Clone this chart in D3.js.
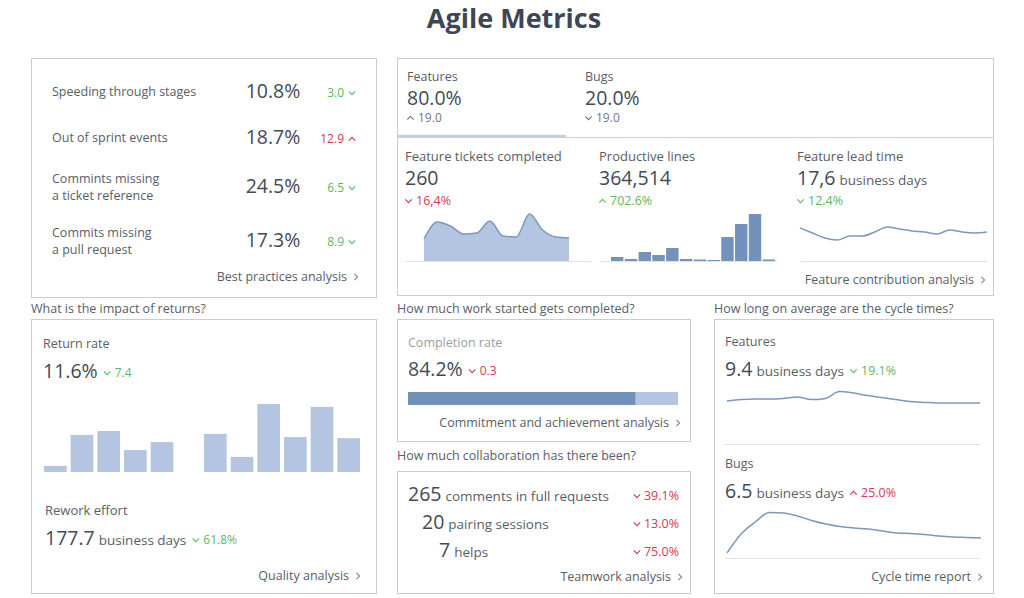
<!DOCTYPE html>
<html>
<head>
<meta charset="utf-8">
<script src="https://cdn.jsdelivr.net/npm/d3@7"></script>
<style>
  body { margin: 0; background: #fff; }
  text { font-family: "Open Sans", sans-serif; }
</style>
</head>
<body>
<svg id="chart" width="1024" height="598"></svg>
<script>
// ---- data ----
const bestLabels = [["Speeding through stages"], ["Out of sprint events"], ["Commints missing", "a ticket reference"], ["Commits missing", "a pull request"]];
const bestValues = [10.8, 18.7, 24.5, 17.3];
const bestChanges = [-3.0, 12.9, -6.5, -8.9];

const tabLabels = ["Features", "Bugs"];
const tabShares = [80.0, 20.0];
const tabChanges = [19.0, -19.0];

const kpiLabels = ["Feature tickets completed", "Productive lines", "Feature lead time"];
const kpiValues = ["260", "364,514", "17,6"];
const kpiUnits = ["", "", "business days"];
const kpiChanges = ["16,4%", "702.6%", "12.4%"];
const kpiDirs = ["down", "up", "down"];
const kpiGood = [false, true, true];

const ticketsCompleted = [22, 39, 35, 27, 28, 40, 25, 24, 47, 31, 24, 23];
const productiveLines = [8, 4, 18, 12, 26, 4, 3, 2, 48, 74, 94, 3]; // thousands of lines
const leadTimeDays = [21.3, 18.1, 14.8, 13.5, 16.1, 16.1, 18.7, 21.9, 20.6, 19.4, 18.7, 17.4, 20.0, 18.7, 18.1, 18.7];

const returnRate = [1.7, 10.3, 11.4, 6.1, 8.3, null, 10.6, 4.2, 18.9, 9.7, 18.1, 9.4];
const returnNow = 11.6, returnChange = -7.4;
const reworkDays = 177.7, reworkChange = "61.8%";

const completionRate = 84.2, completionChange = -0.3;

const collabCounts = [265, 20, 7];
const collabLabels = ["comments in full requests", "pairing sessions", "helps"];
const collabChanges = ["39.1%", "13.0%", "75.0%"];

const featureCycleDays = [10.75, 11.1, 11.25, 11.25, 11.4, 11.75, 11.1, 11.4, 13.1, 12.75, 12.1, 11.6, 11.1, 10.6, 10.4, 10.25, 10.25, 10.25, 10.25];
const bugCycleDays = [1.0, 4.8, 7.2, 9.1, 9.0, 8.4, 7.5, 6.8, 6.3, 6.0, 5.8, 5.4, 5.0, 4.9, 4.7, 4.4, 4.2, 4.1, 4.0];
const cycleNow = [9.4, 6.5];
const cycleChanges = ["19.1%", "25.0%"];

// ---- drawing ----
const C = {
  title: "#3e4656", value: "#434a55", label: "#585e68", soft: "#9a9ea4",
  green: "#5db85d", red: "#d93650", border: "#cccccc", rule: "#e2e2e2",
  light: "#b3c5e1", dark: "#7291bb", line: "#7d97bd", tab: "#c3d2e3"
};
const f1 = d3.format(".1f");

const svg = d3.select("#chart");
svg.append("rect").attr("width", 1024).attr("height", 598).attr("fill", "#fff");

function txt(g, x, y, s, size, color, anchor, weight) {
  return g.append("text").attr("x", x).attr("y", y).text(s)
    .attr("font-size", size).attr("fill", color)
    .attr("text-anchor", anchor || "start").attr("font-weight", weight || 400);
}
function width(sel) { return sel.node().getComputedTextLength(); }

function chevron(g, x, y, dir, color) {
  const s = 3.2;
  let d;
  if (dir === "down") d = `M${x - s},${y - s / 2}L${x},${y + s / 2}L${x + s},${y - s / 2}`;
  else if (dir === "up") d = `M${x - s},${y + s / 2}L${x},${y - s / 2}L${x + s},${y + s / 2}`;
  else d = `M${x - s / 2},${y - s}L${x + s / 2},${y}L${x - s / 2},${y + s}`;
  g.append("path").attr("d", d).attr("fill", "none").attr("stroke", color).attr("stroke-width", 1.1);
}

// chevron then text, starting at x
function delta(g, x, y, dir, s, color, size) {
  chevron(g, x + 3.5, y - 4, dir, color);
  return txt(g, x + 11, y, s, size || 12, color);
}
// text then link chevron, right aligned at x
function link(g, x, y, s) {
  txt(g, x - 12, y, s, 12.5, C.label, "end");
  chevron(g, x - 3, y - 4, "right", "#888");
}
function panel(x, y, w, h) {
  svg.append("rect").attr("x", x + 0.5).attr("y", y + 0.5).attr("width", w).attr("height", h)
    .attr("fill", "none").attr("stroke", C.border);
}
function hline(x1, x2, y, color) {
  svg.append("line").attr("x1", x1).attr("x2", x2).attr("y1", y + 0.5).attr("y2", y + 0.5)
    .attr("stroke", color || C.rule);
}

txt(svg, 514, 28, "Agile Metrics", 27, C.title, "middle", 700);

// -- best practices panel
panel(31, 58, 345, 239);
const rowCenters = [91, 137, 186, 240];
bestLabels.forEach((lines, i) => {
  const cy = rowCenters[i];
  lines.forEach((l, j) => txt(svg, 52, cy + 5 - (lines.length - 1) * 8.5 + j * 17, l, 12.5, C.label));
  txt(svg, 273, cy + 7, f1(bestValues[i]) + "%", 19.5, C.value, "middle");
  const up = bestChanges[i] > 0, col = up ? C.red : C.green;
  txt(svg, 344, cy + 6, f1(Math.abs(bestChanges[i])), 12, col, "end");
  chevron(svg, 352, cy + 2, up ? "up" : "down", col);
});
link(svg, 359, 281, "Best practices analysis");

// -- features / bugs panel
panel(397, 58, 596, 237);
hline(397, 993, 137, "#cfcfcf");
svg.append("line").attr("x1", 397).attr("x2", 566).attr("y1", 136).attr("y2", 136)
  .attr("stroke", C.tab).attr("stroke-width", 2.5);
const tabX = [407, 585];
tabLabels.forEach((l, i) => {
  txt(svg, tabX[i], 81, l, 12.5, C.label);
  txt(svg, tabX[i], 105, f1(tabShares[i]) + "%", 19.5, C.value);
  delta(svg, tabX[i], 122, tabChanges[i] > 0 ? "up" : "down", f1(Math.abs(tabChanges[i])), "#777", 12);
});

const kpiX = [405, 599, 797];
kpiLabels.forEach((l, i) => {
  txt(svg, kpiX[i], 161, l, 13, C.label);
  const v = txt(svg, kpiX[i], 185, kpiValues[i], 19.5, C.value);
  if (kpiUnits[i]) txt(svg, kpiX[i] + width(v) + 4, 185, kpiUnits[i], 13.5, C.label);
  delta(svg, kpiX[i], 205, kpiDirs[i], kpiChanges[i], kpiGood[i] ? C.green : C.red, 12.5);
});

// tickets area
hline(406, 591, 261);
const xT = d3.scaleLinear().domain([0, ticketsCompleted.length - 1]).range([424, 569]);
const yT = d3.scaleLinear().domain([0, 50]).range([261, 211]);
svg.append("path").datum(ticketsCompleted)
  .attr("d", d3.area().x((d, i) => xT(i)).y0(yT(0)).y1(d => yT(d)).curve(d3.curveMonotoneX))
  .attr("fill", C.light);
svg.append("path").datum(ticketsCompleted)
  .attr("d", d3.line().x((d, i) => xT(i)).y(d => yT(d)).curve(d3.curveMonotoneX))
  .attr("fill", "none").attr("stroke", C.line).attr("stroke-width", 1.5);

// productive lines bars
hline(601, 777, 261);
const xP = d3.scaleBand().domain(d3.range(productiveLines.length)).range([611, 775]).paddingInner(0.1);
const yP = d3.scaleLinear().domain([0, d3.max(productiveLines)]).range([261, 214]);
svg.selectAll(".pl").data(productiveLines).join("rect")
  .attr("x", (d, i) => xP(i)).attr("width", xP.bandwidth())
  .attr("y", d => yP(d)).attr("height", d => yP(0) - yP(d))
  .attr("fill", C.dark);

// lead time line
hline(801, 987, 261);
const xL = d3.scaleLinear().domain([0, leadTimeDays.length - 1]).range([800, 987]);
const yL = d3.scaleLinear().domain([0, 40]).range([261, 199]);
svg.append("path").datum(leadTimeDays)
  .attr("d", d3.line().x((d, i) => xL(i)).y(d => yL(d)).curve(d3.curveMonotoneX))
  .attr("fill", "none").attr("stroke", C.line).attr("stroke-width", 1.5);

link(svg, 986, 284, "Feature contribution analysis");

// -- returns panel
txt(svg, 31, 313, "What is the impact of returns?", 12.5, C.label);
panel(31, 319, 345, 274);
txt(svg, 43, 348, "Return rate", 12.5, C.label);
const rr = txt(svg, 43, 378, f1(returnNow) + "%", 19.5, C.value);
delta(svg, 43 + width(rr) + 6, 377, "down", f1(Math.abs(returnChange)), C.green, 12);

const xR = d3.scaleBand().domain(d3.range(returnRate.length)).range([44, 360]).paddingInner(0.15);
const yR = d3.scaleLinear().domain([0, 20]).range([472, 400]);
const returnBars = returnRate.map((v, i) => ({ v, i })).filter(d => d.v !== null);
svg.selectAll(".rr").data(returnBars).join("rect")
  .attr("x", d => xR(d.i)).attr("width", xR.bandwidth())
  .attr("y", d => yR(d.v)).attr("height", d => yR(0) - yR(d.v))
  .attr("fill", C.light);

txt(svg, 45, 515, "Rework effort", 13, C.label);
const rw = txt(svg, 45, 545, f1(reworkDays), 19.5, C.value);
const rwu = txt(svg, 45 + width(rw) + 4, 545, "business days", 13.5, C.label);
delta(svg, 45 + width(rw) + 4 + width(rwu) + 6, 544, "down", reworkChange, C.green, 12);
link(svg, 361, 580, "Quality analysis");

// -- completion panel
txt(svg, 397, 313, "How much work started gets completed?", 12.5, C.label);
panel(397, 319, 293, 122);
txt(svg, 408, 347, "Completion rate", 12.5, C.soft);
const cr = txt(svg, 408, 376, f1(completionRate) + "%", 19.5, C.value);
delta(svg, 408 + width(cr) + 6, 375, "down", f1(Math.abs(completionChange)), C.red, 12);
const xC = d3.scaleLinear().domain([0, 100]).range([408, 678]);
svg.append("rect").attr("x", xC(0)).attr("y", 392).attr("width", xC(100) - xC(0)).attr("height", 13).attr("fill", C.light);
svg.append("rect").attr("x", xC(0)).attr("y", 392).attr("width", xC(completionRate) - xC(0)).attr("height", 13).attr("fill", C.dark);
link(svg, 681, 427, "Commitment and achievement analysis");

// -- collaboration panel
txt(svg, 397, 460, "How much collaboration has there been?", 12.5, C.label);
panel(397, 471, 293, 122);
const collabX = [408, 422, 439];
collabCounts.forEach((n, i) => {
  const y = 501 + i * 28;
  const t = txt(svg, collabX[i], y, n, 19.5, C.value);
  txt(svg, collabX[i] + width(t) + 4, y, collabLabels[i], 13.5, C.label);
  const d = txt(svg, 679, y - 1, collabChanges[i], 12.5, C.red, "end");
  chevron(svg, 679 - width(d) - 7, y - 5, "down", C.red);
});
link(svg, 683, 581, "Teamwork analysis");

// -- cycle time panel
txt(svg, 714, 313, "How long on average are the cycle times?", 12.5, C.label);
panel(714, 319, 279, 274);
const cycleTitles = ["Features", "Bugs"];
const cycleTop = [346, 468];
const cycleGood = [true, false];
cycleTitles.forEach((l, i) => {
  const y0 = cycleTop[i];
  txt(svg, 725, y0, l, 12.5, C.label);
  const v = txt(svg, 725, y0 + 30, f1(cycleNow[i]), 19.5, C.value);
  const u = txt(svg, 725 + width(v) + 4, y0 + 30, "business days", 13.5, C.label);
  delta(svg, 725 + width(v) + 4 + width(u) + 6, y0 + 29, cycleGood[i] ? "down" : "up", cycleChanges[i], cycleGood[i] ? C.green : C.red, 12.5);
});
hline(725, 980, 444);
hline(725, 980, 558);
const xF = d3.scaleLinear().domain([0, featureCycleDays.length - 1]).range([727, 980]);
const yF = d3.scaleLinear().domain([0, 15]).range([444, 384]);
svg.append("path").datum(featureCycleDays)
  .attr("d", d3.line().x((d, i) => xF(i)).y(d => yF(d)).curve(d3.curveMonotoneX))
  .attr("fill", "none").attr("stroke", C.line).attr("stroke-width", 1.5);
const xB = d3.scaleLinear().domain([0, bugCycleDays.length - 1]).range([727, 981]);
const yB = d3.scaleLinear().domain([0, 12]).range([558, 498]);
svg.append("path").datum(bugCycleDays)
  .attr("d", d3.line().x((d, i) => xB(i)).y(d => yB(d)).curve(d3.curveMonotoneX))
  .attr("fill", "none").attr("stroke", C.line).attr("stroke-width", 1.5);
link(svg, 983, 581, "Cycle time report");
</script>
</body>
</html>
